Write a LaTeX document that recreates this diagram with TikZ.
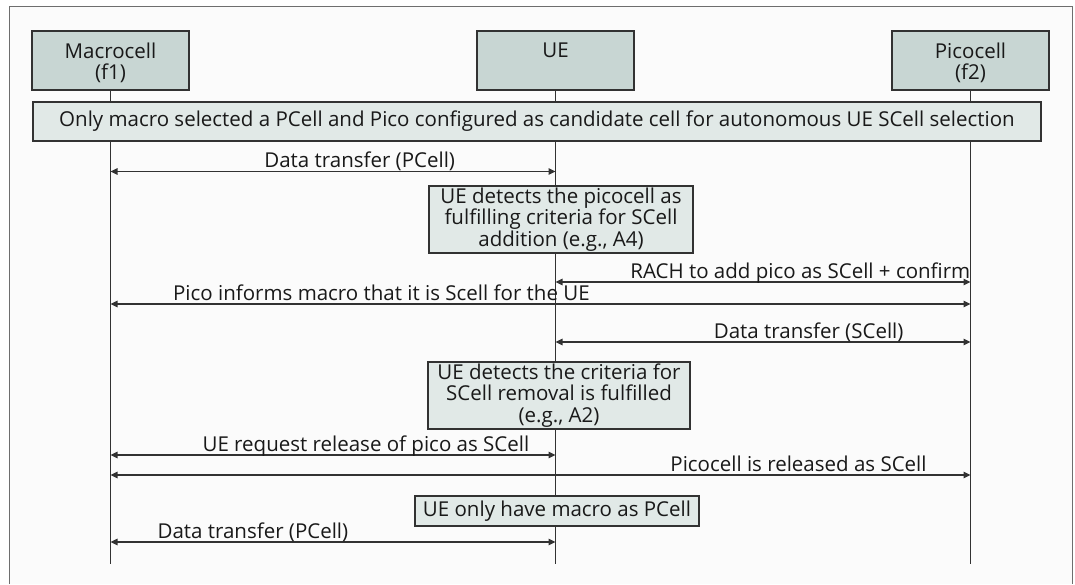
\documentclass[tikz,border=0pt]{standalone}
\usepackage{fontspec}
\setmainfont{Open Sans}
\usetikzlibrary{arrows.meta}
\definecolor{headfill}{RGB}{200,214,211}
\definecolor{notefill}{RGB}{225,233,231}
\definecolor{linegray}{RGB}{50,50,50}
\definecolor{framegray}{RGB}{110,110,110}
\definecolor{paper}{RGB}{251,251,251}
\definecolor{inkgray}{RGB}{25,25,25}
\newcommand{\diafont}{\fontsize{20.5}{21.7}\selectfont}

\begin{document}
\begin{tikzpicture}[x=1pt, y=-1pt,
  head/.style={draw=linegray, line width=1.3pt, fill=headfill, minimum width=157pt, minimum height=59pt, inner sep=0pt},
  headlbl/.style={anchor=north, align=center, yshift=-10pt, inner sep=2pt, text=inkgray, font=\diafont},
  note/.style={draw=linegray, line width=1.2pt, fill=notefill, align=center, inner sep=0pt, text=inkgray, font=\diafont},
  life/.style={draw=linegray, line width=1.3pt},
  msg/.style={{Triangle[length=7pt,width=6.5pt]}-{Triangle[length=7pt,width=6.5pt]}, draw=linegray, line width=1.1pt},
  lbl/.style={anchor=base, yshift=4pt, inner sep=0pt, text=inkgray, font=\diafont}]
\useasboundingbox (0,0) rectangle (1075,584);
\fill[white] (0,0) rectangle (1075,584);
\fill[paper] (9,6) rectangle (1072,584);
\draw[framegray, line width=1pt] (9,584) -- (9,6) -- (1072,6) -- (1072,584);

\node[head, label={[headlbl]north:Macrocell\\(f1)}] (mac) at (110.5,60.5) {};
\node[head, label={[headlbl]north:UE}] (ue) at (555.5,60.5) {};
\node[head, label={[headlbl]north:Picocell\\(f2)}] (pico) at (970.5,60.5) {};

\coordinate (end) at (0,564);
\foreach \n/\y in {1/171.5, 2/282, 3/304, 4/342, 5/455, 6/475, 7/542}
  \coordinate (r\n) at (0,\y);

\draw[life] (mac) -- (mac |- end);
\draw[life] (ue) -- (ue |- end);
\draw[life] (pico) -- (pico |- end);

\node[note, minimum width=1008pt, minimum height=39pt] (sel) at (537,121.5)
  {Only macro selected a PCell and Pico configured as candidate cell for autonomous UE SCell selection};
\node[note, minimum width=264pt, minimum height=67pt] (add) at (561,219.5)
  {UE detects the picocell as\\fulfilling criteria for SCell\\addition (e.g., A4)};
\node[note, minimum width=262pt, minimum height=67pt] (rem) at (559,395.5)
  {UE detects the criteria for\\SCell removal is fulfilled\\(e.g., A2)};
\node[note, minimum width=284pt, minimum height=30pt] (only) at (557,511)
  {UE only have macro as PCell};

\draw[msg] (mac |- r1) -- (ue |- r1) node[lbl, pos=.56] {Data transfer (PCell)};
\draw[msg] (ue |- r2) -- (pico |- r2) node[lbl, pos=.59] {RACH to add pico as SCell + confirm};
\draw[msg] (mac |- r3) -- (pico |- r3) node[lbl, pos=.315] {Pico informs macro that it is Scell for the UE};
\draw[msg] (ue |- r4) -- (pico |- r4) node[lbl, pos=.61] {Data transfer (SCell)};
\draw[msg] (mac |- r5) -- (ue |- r5) node[lbl, pos=.574] {UE request release of pico as SCell};
\draw[msg] (mac |- r6) -- (pico |- r6) node[lbl, pos=.80] {Picocell is released as SCell};
\draw[msg] (mac |- r7) -- (ue |- r7) node[lbl, pos=.32] {Data transfer (PCell)};
\end{tikzpicture}
\end{document}
